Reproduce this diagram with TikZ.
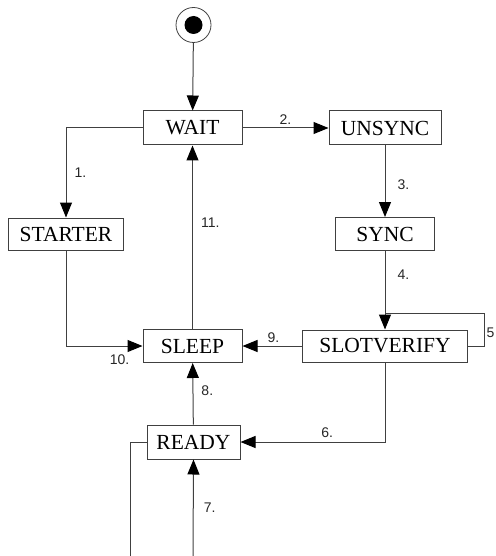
\documentclass[tikz,border=0pt]{standalone}
\usepackage{fontspec}
\setmainfont{Liberation Serif}
\newfontfamily\labelfont{Liberation Sans}
\usetikzlibrary{arrows.meta}
\definecolor{linegray}{HTML}{404040}
\begin{document}
\begin{tikzpicture}[x=1pt,y=-1pt,
  state/.style={draw=linegray,line width=1pt,fill=white,inner sep=0pt,font=\fontsize{21.5}{21.5}\selectfont},
  conn/.style={draw=linegray,line width=1pt},
  arr/.style={conn,-{Triangle[length=15pt,width=12pt,color=black]}},
  lbl/.style={font=\labelfont\fontsize{14}{14}\selectfont,text=black!85,inner sep=0pt}]
\useasboundingbox (0,0) rectangle (495,556);
\node[circle,draw=linegray,line width=0.8pt,minimum size=35pt,inner sep=0pt] (init) at (193.5,25) {};
\node[circle,fill=black,minimum size=18pt,inner sep=0pt] (initdot) at (193.5,25) {};
\node[state,minimum width=99pt,minimum height=34pt] (wait) at (192.5,128) {WAIT};
\node[state,minimum width=112pt,minimum height=34pt] (unsync) at (385,128) {UNSYNC};
\node[state,minimum width=115pt,minimum height=32pt] (starter) at (66,234) {STARTER};
\node[state,minimum width=99pt,minimum height=33pt] (sync) at (385,234) {SYNC};
\node[state,minimum width=99pt,minimum height=33pt] (sleep) at (192.5,346) {SLEEP};
\node[state,minimum width=165pt,minimum height=32pt] (slot) at (385,346) {SLOTVERIFY};
\node[state,minimum width=93pt,minimum height=34pt] (ready) at (193.5,442) {READY};
\coordinate (loopr) at (484,346);
\coordinate (loopt) at (484,313);
\coordinate (bot7) at (193,556);
\coordinate (botl) at (130.5,556);
\coordinate (readyl) at (130.5,442);
% connectors
\draw[arr] (init) -- (wait);
\draw[arr] (wait.west) -| node[lbl,pos=0.75,right=8pt] {1.} (starter.north);
\draw[arr] (wait.east) -- node[lbl,above=3pt,pos=0.5] {2.} (unsync.west);
\draw[arr] (unsync) -- node[lbl,pos=0.55,right=12pt] {3.} (sync);
\draw[arr] (sync) -- node[lbl,pos=0.3,right=12pt] {4.} (slot);
\draw[conn] (slot.east) -- (loopr) -- node[lbl,right=2pt,pos=0.4] {5} (loopt) -- (385,313);
\draw[arr] (slot.west) -- node[lbl,pos=0.48,above=3pt] {9.} (sleep.east);
\draw[arr] (starter.south) |- node[lbl,pos=0.85,below=8pt] {10.} (sleep.west);
\draw[arr] (sleep) -- node[lbl,pos=0.58,right=8pt] {11.} (wait);
\draw[arr] (ready) -- node[lbl,pos=0.55,right=8pt] {8.} (sleep);
\draw[arr] (slot.south) |- node[lbl,pos=0.7,above=4pt] {6.} (ready.east);
\draw[arr] (bot7) -- node[lbl,pos=0.5,right=10pt] {7.} (ready.south);
\draw[conn] (ready.west) -- (readyl) -- (botl);
\end{tikzpicture}
\end{document}
